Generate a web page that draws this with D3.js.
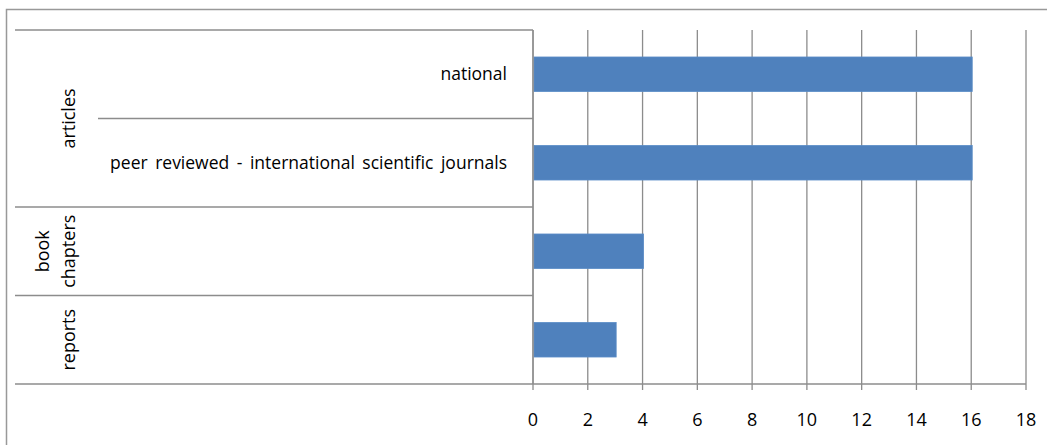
<!DOCTYPE html>
<html>
<head>
<meta charset="utf-8">
<script src="https://cdn.jsdelivr.net/npm/d3@7"></script>
<style>
  body { margin: 0; background: #fff; }
  text { font-family: "Open Sans", "Liberation Sans", sans-serif; fill: #000; }
</style>
</head>
<body>
<div id="chart"></div>
<script>
const w = 1047;
const h = 445;

// data, top to bottom
const items = ["national", "peer reviewed", "book chapters", "reports"];
const groups = ["articles", "articles", "book chapters", "reports"];
const subLabels = ["national", "peer reviewed - international scientific journals", "", ""];
const values = [16, 16, 4, 3];
const xTicks = [0, 2, 4, 6, 8, 10, 12, 14, 16, 18];

const plotLeft = 533, plotRight = 1026, plotTop = 30, plotBottom = 384;
const gridColor = "#8c8c8c";

const svg = d3.select("#chart")
  .append("svg")
  .attr("width", w)
  .attr("height", h);

// chart frame
svg.append("rect")
  .attr("x", 6.5).attr("y", 9.5)
  .attr("width", w + 20).attr("height", h + 20)
  .attr("fill", "none")
  .attr("stroke", "#999")
  .attr("stroke-width", 1.5);

const x = d3.scaleLinear().domain([0, 18]).range([plotLeft, plotRight]);
const y = d3.scaleBand().domain(items).range([plotTop, plotBottom]).paddingInner(0.61).paddingOuter(0.305);

// vertical gridlines
svg.selectAll("line.grid")
  .data(xTicks)
  .enter()
  .append("line")
  .attr("class", "grid")
  .attr("x1", d => x(d)).attr("x2", d => x(d))
  .attr("y1", plotTop).attr("y2", plotBottom + 6)
  .attr("stroke", gridColor)
  .attr("stroke-width", 1.3);

// x axis line
svg.append("line")
  .attr("x1", plotLeft).attr("x2", plotRight)
  .attr("y1", plotBottom).attr("y2", plotBottom)
  .attr("stroke", gridColor).attr("stroke-width", 1.3);

svg.selectAll("text.xtick")
  .data(xTicks)
  .enter()
  .append("text")
  .attr("class", "xtick")
  .attr("x", d => x(d))
  .attr("y", 426)
  .attr("text-anchor", "middle")
  .style("font-size", "18px")
  .text(d => d);

// bars
svg.selectAll("rect.bar")
  .data(values)
  .enter()
  .append("rect")
  .attr("class", "bar")
  .attr("x", x(0) + 1)
  .attr("y", (d, i) => y(items[i]))
  .attr("width", d => x(d) - x(0))
  .attr("height", y.bandwidth())
  .attr("fill", "#4f81bd")
  .attr("stroke", "#5a8cc6")
  .attr("stroke-width", 0.8);

// category band boundaries
const step = y.step();
const bounds = d3.range(items.length + 1).map(i => plotTop + i * step);

svg.selectAll("line.sep")
  .data(bounds)
  .enter()
  .append("line")
  .attr("class", "sep")
  .attr("x1", (d, i) => i === 1 ? 98 : 15)
  .attr("x2", plotLeft)
  .attr("y1", d => d).attr("y2", d => d)
  .attr("stroke", gridColor)
  .attr("stroke-width", 1.3);

// y axis line
svg.append("line")
  .attr("x1", plotLeft).attr("x2", plotLeft)
  .attr("y1", plotTop).attr("y2", plotBottom)
  .attr("stroke", gridColor).attr("stroke-width", 1.3);

// sub-category labels
svg.selectAll("text.sub")
  .data(subLabels)
  .enter()
  .append("text")
  .attr("class", "sub")
  .attr("x", 507)
  .attr("y", (d, i) => y(items[i]) + y.bandwidth() / 2 + 6)
  .attr("text-anchor", "end")
  .style("font-size", "17.5px")
  .style("word-spacing", "3px")
  .text(d => d);

// group labels, rotated
const groupNames = [...new Set(groups)];
groupNames.forEach(g => {
  const idx = groups.map((d, i) => d === g ? i : -1).filter(i => i >= 0);
  const y0 = plotTop + d3.min(idx) * step;
  const y1 = plotTop + (d3.max(idx) + 1) * step;
  const cy = (y0 + y1) / 2;
  const lines = g === "book chapters" ? ["book", "chapters"] : [g];
  const t = svg.append("text")
    .attr("transform", "translate(75," + cy + ") rotate(-90)")
    .attr("text-anchor", "middle")
    .style("font-size", "18px");
  lines.forEach((l, k) => {
    t.append("tspan")
      .attr("x", 0)
      .attr("dy", k === 0 ? -(lines.length - 1) * 26 + "px" : "26px")
      .text(l);
  });
});
</script>
</body>
</html>
